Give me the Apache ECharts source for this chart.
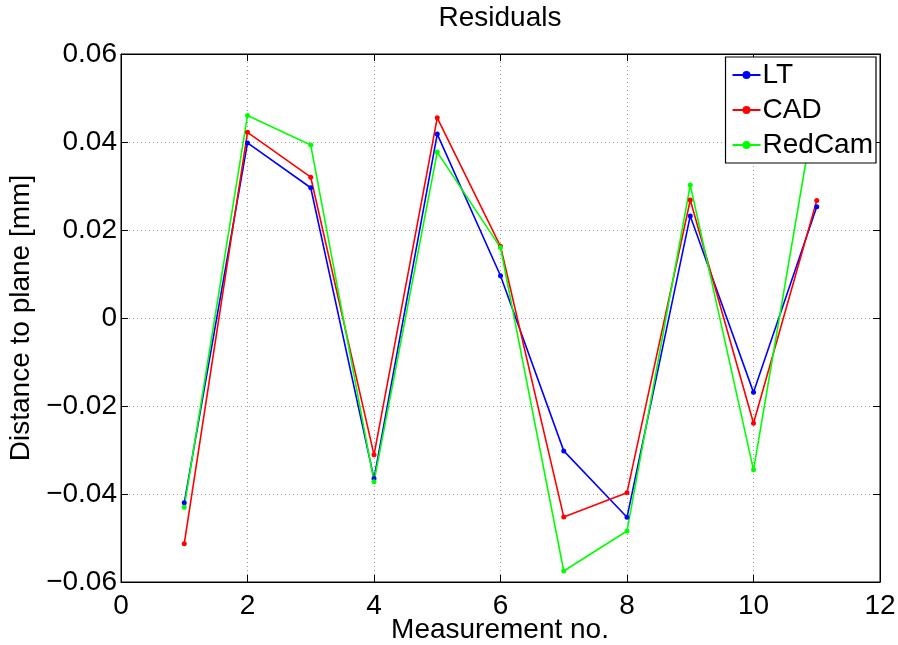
<!DOCTYPE html>
<html>
<head>
<meta charset="utf-8">
<script src="https://cdn.jsdelivr.net/npm/echarts@6/dist/echarts.min.js"></script>
<style>
  html, body { margin: 0; padding: 0; background: #fff; }
  #chart { width: 898px; height: 645px; }
</style>
</head>
<body>
<div id="chart"></div>
<script>
// measurement numbers
const measurements = [1, 2, 3, 4, 5, 6, 7, 8, 9, 10, 11]
// residuals [mm]
const ltValues = [-0.0420, 0.0398, 0.0296, -0.0365, 0.0418, 0.0096, -0.0302, -0.0453, 0.0232, -0.0169, 0.0253]
const cadValues = [-0.0513, 0.0422, 0.0320, -0.0311, 0.0455, 0.0163, -0.0452, -0.0397, 0.0268, -0.0239, 0.0267]
const redCamValues = [-0.0430, 0.0460, 0.0393, -0.0372, 0.0377, 0.0160, -0.0575, -0.0484, 0.0302, -0.0345, 0.0500]

const font = 'Liberation Sans, Arial, Helvetica, sans-serif'

const myChart = echarts.init(document.getElementById('chart'))

function pairs (vals) {
  return measurements.map((m, i) => [m, vals[i]])
}

function lineSeries (name, color, vals) {
  return {
    name: name,
    type: 'line',
    data: pairs(vals),
    symbol: 'circle',
    symbolSize: 5,
    showSymbol: true,
    lineStyle: { color: color, width: 1.6 },
    itemStyle: { color: color },
    emphasis: { disabled: true },
    z: 2
  }
}

const dotted = { show: true, lineStyle: { color: '#a0a0a0', type: [1, 3], width: 1 } }

let option = {
  animation: false,
  backgroundColor: '#fff',
  title: {
    text: 'Residuals',
    left: 500,
    textAlign: 'center',
    top: 4,
    padding: 0,
    textStyle: { fontFamily: font, fontSize: 28, fontWeight: 'normal', color: '#000' }
  },
  // x axis title, placed by hand because the axis name gets pushed below the tick labels
  graphic: [
    {
      type: 'text',
      x: 500,
      y: 630,
      style: {
        text: 'Measurement no.',
        fontFamily: font,
        fontSize: 28,
        fill: '#000',
        align: 'center',
        verticalAlign: 'middle'
      }
    }
  ],
  grid: {
    left: 121,
    right: 18,
    top: 54,
    bottom: 63,
    containLabel: false,
    outerBoundsMode: 'none',
    show: true,
    borderColor: '#000',
    borderWidth: 1,
    backgroundColor: 'transparent'
  },
  legend: {
    orient: 'vertical',
    right: 22,
    top: 57,
    padding: [4, 3, 4, 6],
    itemGap: 7,
    itemWidth: 28,
    itemHeight: 10,
    backgroundColor: '#fff',
    borderColor: '#000',
    borderWidth: 1.2,
    textStyle: { fontFamily: font, fontSize: 28, color: '#000', padding: [0, 0, 0, -3] },
    data: ['LT', 'CAD', 'RedCam'],
    z: 10
  },
  xAxis: [
    {
      type: 'value',
      min: 0,
      max: 12,
      interval: 2,
      axisLine: { show: true, onZero: false, lineStyle: { color: '#000', width: 1 } },
      axisTick: { show: true, inside: true, length: 7, lineStyle: { color: '#000' } },
      axisLabel: { fontFamily: font, fontSize: 28, color: '#000', margin: 10 },
      splitLine: dotted
    },
    {
      type: 'value',
      position: 'top',
      min: 0,
      max: 12,
      interval: 2,
      axisLine: { show: true, onZero: false, lineStyle: { color: '#000' } },
      axisTick: { show: true, inside: true, length: 7, lineStyle: { color: '#000' } },
      axisLabel: { show: false },
      splitLine: { show: false }
    }
  ],
  yAxis: [
    {
      type: 'value',
      min: -0.06,
      max: 0.06,
      interval: 0.02,
      name: 'Distance to plane [mm]',
      nameLocation: 'middle',
      nameGap: 84,
      nameTextStyle: { fontFamily: font, fontSize: 28, color: '#000' },
      axisLine: { show: true, onZero: false, lineStyle: { color: '#000', width: 1 } },
      axisTick: { show: true, inside: true, length: 7, lineStyle: { color: '#000' } },
      axisLabel: {
        fontFamily: font,
        fontSize: 28,
        color: '#000',
        margin: 4,
        formatter: (v) => {
          let s = Math.abs(v) < 1e-9 ? '0' : v.toFixed(2)
          return s.replace('-', '\u2212')
        }
      },
      splitLine: dotted
    },
    {
      type: 'value',
      position: 'right',
      min: -0.06,
      max: 0.06,
      interval: 0.02,
      axisLine: { show: true, onZero: false, lineStyle: { color: '#000' } },
      axisTick: { show: true, inside: true, length: 7, lineStyle: { color: '#000' } },
      axisLabel: { show: false },
      splitLine: { show: false }
    }
  ],
  series: [
    lineSeries('LT', '#0000ff', ltValues),
    lineSeries('CAD', '#ff0000', cadValues),
    lineSeries('RedCam', '#00ff00', redCamValues)
  ]
}

myChart.setOption(option)
</script>
</body>
</html>
